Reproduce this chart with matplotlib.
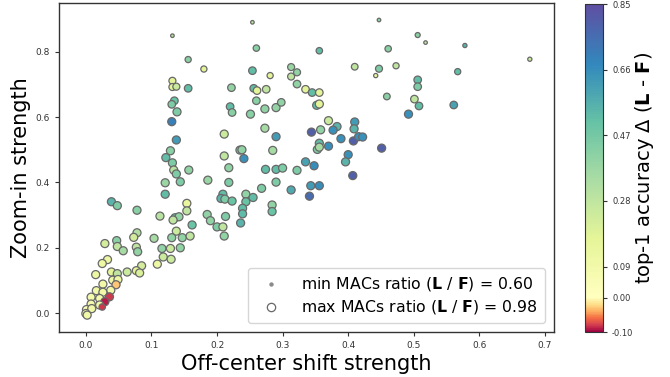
import numpy as np
import matplotlib
matplotlib.use("Agg")
import matplotlib.pyplot as plt
from matplotlib.colors import ListedColormap, Normalize

# ---------------- data ----------------
shift_strength = [
    0.039, 0.048, 0.078, 0.113, 0.078, 0.073, 0.104, 0.029, 0.047, 0.048,
    0.057, 0.077, 0.079, 0.033, 0.025, 0.109, 0.085, 0.039, 0.048, 0.063,
    0.077, 0.082, 0.015, 0.041, 0.049, 0.046, 0.026, 0.038, 0.016, 0.026,
    0.008, 0.036, 0.021, 0.029, 0.008, 0.021, 0.001, 0.009, 0.000, 0.002,
    0.025,
    0.131, 0.138, 0.211, 0.129, 0.122, 0.132, 0.211, 0.235, 0.218, 0.134,
    0.138, 0.157, 0.144, 0.121, 0.186, 0.218, 0.121, 0.209, 0.206, 0.212,
    0.223, 0.154, 0.154, 0.136, 0.142, 0.133, 0.185, 0.190, 0.213, 0.162,
    0.200, 0.209, 0.236, 0.138, 0.131, 0.147, 0.159, 0.211, 0.116, 0.129,
    0.144, 0.118, 0.130,
    0.132, 0.156, 0.180, 0.132, 0.132, 0.138, 0.156, 0.135, 0.131, 0.139,
    0.254, 0.447, 0.260, 0.356, 0.461, 0.254, 0.281, 0.313, 0.322, 0.313,
    0.410, 0.447, 0.442, 0.222, 0.256, 0.261, 0.275, 0.322, 0.335, 0.345,
    0.356, 0.459, 0.260, 0.220, 0.223, 0.251, 0.273, 0.290, 0.298, 0.352,
    0.356, 0.370, 0.410, 0.383, 0.377, 0.409, 0.344, 0.358, 0.273, 0.290,
    0.389, 0.408, 0.416, 0.422, 0.451, 0.356, 0.353, 0.356, 0.370, 0.238,
    0.285, 0.241, 0.400, 0.396, 0.335, 0.348, 0.407, 0.274, 0.290, 0.300,
    0.322, 0.290, 0.268, 0.313, 0.343, 0.356, 0.341, 0.244, 0.255, 0.244,
    0.239, 0.239, 0.284, 0.284,
    0.506, 0.518, 0.578, 0.677, 0.473, 0.567, 0.506, 0.506, 0.501, 0.508,
    0.561, 0.492,
]
zoom_strength = [
    0.341, 0.329, 0.315, 0.297, 0.246, 0.232, 0.229, 0.213, 0.222, 0.204,
    0.191, 0.202, 0.188, 0.164, 0.152, 0.150, 0.145, 0.126, 0.121, 0.126,
    0.130, 0.123, 0.118, 0.101, 0.103, 0.087, 0.089, 0.070, 0.069, 0.064,
    0.049, 0.050, 0.045, 0.035, 0.028, 0.025, 0.011, 0.014, -0.001, -0.006,
    0.019,
    0.586, 0.530, 0.548, 0.497, 0.476, 0.460, 0.481, 0.499, 0.445, 0.438,
    0.426, 0.438, 0.402, 0.399, 0.407, 0.400, 0.364, 0.364, 0.351, 0.349,
    0.343, 0.336, 0.313, 0.292, 0.295, 0.285, 0.302, 0.283, 0.296, 0.270,
    0.264, 0.264, 0.276, 0.251, 0.231, 0.231, 0.236, 0.236, 0.198, 0.198,
    0.200, 0.172, 0.165,
    0.849, 0.776, 0.747, 0.711, 0.692, 0.693, 0.688, 0.650, 0.639, 0.616,
    0.890, 0.897, 0.811, 0.803, 0.809, 0.742, 0.727, 0.753, 0.737, 0.724,
    0.754, 0.748, 0.727, 0.690, 0.688, 0.681, 0.685, 0.701, 0.685, 0.675,
    0.675, 0.663, 0.650, 0.632, 0.614, 0.609, 0.625, 0.629, 0.645, 0.636,
    0.640, 0.589, 0.585, 0.571, 0.560, 0.564, 0.554, 0.561, 0.566, 0.540,
    0.534, 0.527, 0.540, 0.539, 0.505, 0.520, 0.501, 0.508, 0.511, 0.500,
    0.498, 0.473, 0.485, 0.463, 0.463, 0.451, 0.421, 0.440, 0.440, 0.444,
    0.437, 0.401, 0.382, 0.377, 0.390, 0.390, 0.358, 0.364, 0.354, 0.341,
    0.321, 0.304, 0.331, 0.311,
    0.851, 0.828, 0.819, 0.777, 0.757, 0.739, 0.714, 0.693, 0.655, 0.634,
    0.637, 0.609,
]
acc_delta = [
    0.55, 0.45, 0.42, 0.30, 0.32, 0.22, 0.35, 0.22, 0.42, 0.28,
    0.35, 0.28, 0.40, 0.12, 0.12, 0.12, 0.22, 0.18, 0.28, 0.25,
    0.17, 0.20, 0.12, 0.12, 0.12, -0.03, 0.10, 0.10, 0.10, 0.10,
    0.08, -0.08, 0.08, -0.09, 0.08, 0.10, 0.02, 0.10, 0.10, 0.10,
    -0.08,
    0.70, 0.62, 0.25, 0.42, 0.52, 0.45, 0.28, 0.45, 0.40, 0.30,
    0.45, 0.40, 0.45, 0.38, 0.38, 0.45, 0.52, 0.52, 0.55, 0.45,
    0.50, 0.15, 0.28, 0.50, 0.40, 0.28, 0.40, 0.40, 0.45, 0.50,
    0.45, 0.28, 0.55, 0.25, 0.40, 0.40, 0.28, 0.40, 0.40, 0.25,
    0.40, 0.25, 0.25,
    0.30, 0.42, 0.18, 0.18, 0.18, 0.25, 0.52, 0.50, 0.45, 0.45,
    0.30, 0.40, 0.42, 0.52, 0.42, 0.52, 0.18, 0.38, 0.40, 0.28,
    0.28, 0.45, 0.12, 0.40, 0.52, 0.18, 0.28, 0.40, 0.18, 0.52,
    0.18, 0.42, 0.42, 0.52, 0.42, 0.42, 0.40, 0.40, 0.40, 0.52,
    0.18, 0.25, 0.62, 0.55, 0.65, 0.55, 0.80, 0.40, 0.35, 0.62,
    0.65, 0.80, 0.65, 0.65, 0.80, 0.52, 0.45, 0.35, 0.65, 0.40,
    0.35, 0.65, 0.65, 0.55, 0.60, 0.66, 0.80, 0.52, 0.52, 0.45,
    0.45, 0.45, 0.45, 0.58, 0.62, 0.66, 0.76, 0.40, 0.52, 0.50,
    0.52, 0.53, 0.40, 0.50,
    0.42, 0.28, 0.55, 0.25, 0.28, 0.52, 0.52, 0.45, 0.28, 0.52,
    0.60, 0.65,
]
macs_ratio = [
    0.95, 0.95, 0.95, 0.95, 0.95, 0.95, 0.95, 0.95, 0.95, 0.95,
    0.95, 0.95, 0.95, 0.95, 0.95, 0.95, 0.95, 0.95, 0.95, 0.95,
    0.95, 0.95, 0.95, 0.95, 0.95, 0.95, 0.95, 0.95, 0.95, 0.95,
    0.95, 0.95, 0.95, 0.95, 0.95, 0.95, 0.95, 0.95, 0.95, 0.95,
    0.80,
    0.95, 0.95, 0.95, 0.95, 0.95, 0.95, 0.95, 0.95, 0.95, 0.95,
    0.95, 0.95, 0.95, 0.95, 0.95, 0.95, 0.95, 0.95, 0.95, 0.95,
    0.95, 0.95, 0.95, 0.95, 0.95, 0.95, 0.95, 0.95, 0.95, 0.95,
    0.95, 0.95, 0.95, 0.95, 0.95, 0.95, 0.95, 0.95, 0.95, 0.95,
    0.95, 0.95, 0.95,
    0.62, 0.78, 0.78, 0.85, 0.85, 0.85, 0.90, 0.90, 0.90, 0.95,
    0.62, 0.62, 0.80, 0.80, 0.80, 0.90, 0.78, 0.85, 0.85, 0.85,
    0.82, 0.85, 0.65, 0.90, 0.90, 0.90, 0.90, 0.90, 0.90, 0.90,
    0.90, 0.82, 0.90, 0.90, 0.90, 0.95, 0.95, 0.95, 0.90, 0.95,
    0.95, 0.95, 0.95, 0.95, 0.95, 0.95, 0.95, 0.95, 0.95, 0.95,
    0.95, 0.95, 0.95, 0.95, 0.95, 0.95, 0.95, 0.95, 0.95, 0.95,
    0.95, 0.95, 0.95, 0.95, 0.95, 0.95, 0.95, 0.95, 0.95, 0.95,
    0.95, 0.95, 0.95, 0.95, 0.95, 0.95, 0.95, 0.95, 0.95, 0.95,
    0.95, 0.95, 0.95, 0.95,
    0.70, 0.62, 0.65, 0.65, 0.78, 0.78, 0.90, 0.90, 0.90, 0.90,
    0.90, 0.95,
]

x_ticks = [0.0, 0.1, 0.2, 0.3, 0.4, 0.5, 0.6, 0.7]
y_ticks = [0.0, 0.2, 0.4, 0.6, 0.8]
cbar_ticks = [-0.10, 0.00, 0.09, 0.28, 0.47, 0.66, 0.85]
legend_ratios = [0.60, 0.98]

# ---------------- colormap (Spectral, centred at 0) ----------------
vmin, vmax = -0.10, 0.85
spec = plt.get_cmap("Spectral")
f0 = (0 - vmin) / (vmax - vmin)
t = np.linspace(0, 1, 512)
pos = np.where(t < f0, 0.5 * t / f0, 0.5 + 0.5 * (t - f0) / (1 - f0))
cmap = ListedColormap(spec(pos))
norm = Normalize(vmin=vmin, vmax=vmax)

def size_of(r):
    return np.interp(r, [0.60, 0.98], [5, 36])

# ---------------- figure ----------------
fig = plt.figure(figsize=(6.7, 3.77), dpi=100)
ax = fig.add_axes([0.088, 0.119, 0.739, 0.873])
cax = fig.add_axes([0.873, 0.119, 0.027, 0.870])

sc = ax.scatter(shift_strength, zoom_strength, c=acc_delta, cmap=cmap, norm=norm,
                s=size_of(np.array(macs_ratio)), edgecolors="#686868",
                linewidths=0.9, zorder=3)

ax.set_xlim(-0.041, 0.714)
ax.set_ylim(-0.058, 0.949)
ax.set_xticks(x_ticks)
ax.set_yticks(y_ticks)
ax.set_xticklabels([f"{v:.1f}" for v in x_ticks])
ax.set_yticklabels([f"{v:.1f}" for v in y_ticks])
ax.tick_params(labelsize=6.5, colors="#333333", length=3, width=0.8)
for sp in ax.spines.values():
    sp.set_color("#333333")
    sp.set_linewidth(1.0)

ax.set_xlabel("Off-center shift strength", fontsize=15, labelpad=3)
ax.set_ylabel("Zoom-in strength", fontsize=15, labelpad=3)

# legend
h_min = ax.scatter([], [], s=size_of(legend_ratios[0]), c="#8a8a8a",
                   edgecolors="#8a8a8a", linewidths=0.9)
h_max = ax.scatter([], [], s=size_of(legend_ratios[1]), c="white",
                   edgecolors="#686868", linewidths=0.9)
leg = ax.legend([h_min, h_max],
                [r"min MACs ratio ($\mathbf{L}$ / $\mathbf{F}$) = %.2f" % legend_ratios[0],
                 r"max MACs ratio ($\mathbf{L}$ / $\mathbf{F}$) = %.2f" % legend_ratios[1]],
                loc="lower right", fontsize=11.3, frameon=True, borderpad=0.45,
                handletextpad=0.9, labelspacing=0.3, borderaxespad=0.6)

cb = fig.colorbar(sc, cax=cax, ticks=cbar_ticks)
cb.ax.set_yticklabels([f"{v:.2f}" for v in cbar_ticks])
cb.ax.tick_params(labelsize=6, colors="#333333", length=3, width=0.8)
cb.outline.set_edgecolor("#333333")
cb.set_label(r"top-1 accuracy $\Delta$ ($\mathbf{L}$ - $\mathbf{F}$)", fontsize=14,
             labelpad=0)

fig.savefig("out.png", dpi=100)
